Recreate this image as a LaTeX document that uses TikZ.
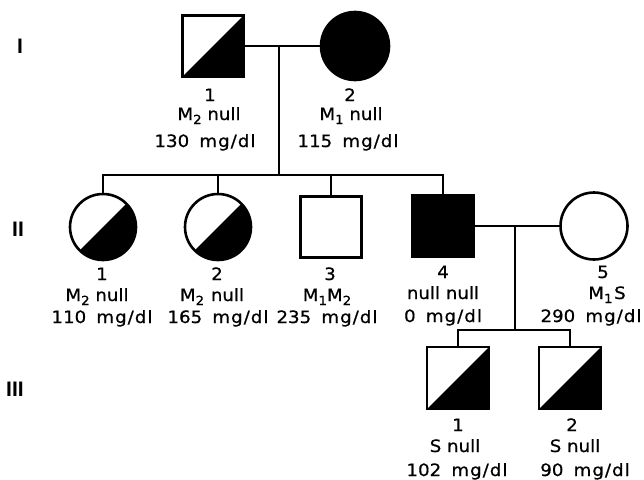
\documentclass[tikz,border=0pt]{standalone}
\usepackage{fontspec}
\setmainfont{DejaVu Sans}[FakeStretch=1.07,FakeBold=0.7]
\newfontfamily\genfont{Liberation Sans}
\newcommand\lsub[1]{\raisebox{-4pt}{\fontsize{12.5}{13}\selectfont #1}}
\newcommand\mgdl{{\addfontfeature{LetterSpace=6}mg/dl}}
\newcommand\val[1]{#1\hspace{0.6em}\mgdl}
\begin{document}
\begin{tikzpicture}[x=1pt,y=-1pt,
  ln/.style={line width=2.2pt},
  male/.style={draw, line width=2.6pt, rectangle, minimum size=61pt, inner sep=0pt},
  female/.style={draw, line width=2.6pt, circle, minimum size=67pt, inner sep=0pt},
  aff/.style={fill=black},
  carrier/.style={path picture={\fill[black] (path picture bounding box.south west) -- (path picture bounding box.north east) -- (path picture bounding box.south east) -- cycle;}},
  lab/.style={anchor=base, inner sep=0pt, font=\fontsize{17}{20}\selectfont},
  gen/.style={inner sep=0pt, font=\genfont\bfseries\fontsize{21}{24}\selectfont}]
\useasboundingbox (0,0) rectangle (644,479);

% generation labels
\node[gen] (gI) at (20,46) {I};
\node[gen] (gII) at (18,229) {II};
\node[gen] (gIII) at (15,389) {III};

% generation I
\node[male, carrier] (I1) at (213,46) {};
\node[female, aff, minimum size=68pt] (I2) at (355,46) {};
% generation II
\node[female, carrier, minimum size=66pt] (II1) at (103,227) {};
\node[female, carrier, minimum size=66pt] (II2) at (218,227) {};
\node[male] (II3) at (331,227) {};
\node[male, aff, minimum size=62pt] (II4) at (443,226) {};
\node[female] (II5) at (594,226) {};
% generation III
\node[male, carrier, minimum size=62pt] (III1) at (458,378) {};
\node[male, carrier, minimum size=62pt] (III2) at (570,378) {};

% connectors
\coordinate (m1) at (279,46);
\coordinate (s1) at (279,175);
\draw[ln] (I1) -- (I2);
\draw[ln] (m1) -- (s1);
\draw[ln] (II1.north) -- (II1.north |- s1) -- (II4.north |- s1) -- (II4.north);
\draw[ln] (II2.north |- s1) -- (II2.north);
\draw[ln] (II3.north |- s1) -- (II3.north);
\coordinate (m2) at (515,226);
\coordinate (s2) at (515,330);
\draw[ln] (II4) -- (II5);
\draw[ln] (m2) -- (s2);
\draw[ln] (III1.north) -- (III1.north |- s2) -- (III2.north |- s2) -- (III2.north);

% labels generation I
\node[lab] (I1a) at (210,101) {1};
\node[lab] (I1b) at (209,120) {M\lsub{2} null};
\node[lab] (I1c) at (205,147) {\val{130}};
\node[lab] (I2a) at (350,101) {2};
\node[lab] (I2b) at (351,120) {M\lsub{1} null};
\node[lab] (I2c) at (348,147) {\val{115}};
% labels generation II
\node[lab] (II1a) at (102,280) {1};
\node[lab] (II1b) at (97,301) {M\lsub{2} null};
\node[lab] (II1c) at (102,323) {\val{110}};
\node[lab] (II2a) at (217,280) {2};
\node[lab] (II2b) at (212,301) {M\lsub{2}\hspace{0.4em}null};
\node[lab] (II2c) at (218,323) {\val{165}};
\node[lab] (II3a) at (330,280) {3};
\node[lab] (II3b) at (327,301) {M\lsub{1}M\lsub{2}};
\node[lab] (II3c) at (327,323) {\val{235}};
\node[lab] (II4a) at (443,278) {4};
\node[lab] (II4b) at (443,299) {null null};
\node[lab] (II4c) at (443,322) {\val{0}};
\node[lab] (II5a) at (603,278) {5};
\node[lab] (II5b) at (607,299) {M\lsub{1}\hspace{0.1em}S};
\node[lab] (II5c) at (591,322) {\val{290}};
% labels generation III
\node[lab] (III1a) at (458,431) {1};
\node[lab] (III1b) at (455,452) {S null};
\node[lab] (III1c) at (457,476) {\val{102}};
\node[lab] (III2a) at (572,431) {2};
\node[lab] (III2b) at (575,452) {S null};
\node[lab] (III2c) at (585,476) {\val{90}};
\end{tikzpicture}
\end{document}
